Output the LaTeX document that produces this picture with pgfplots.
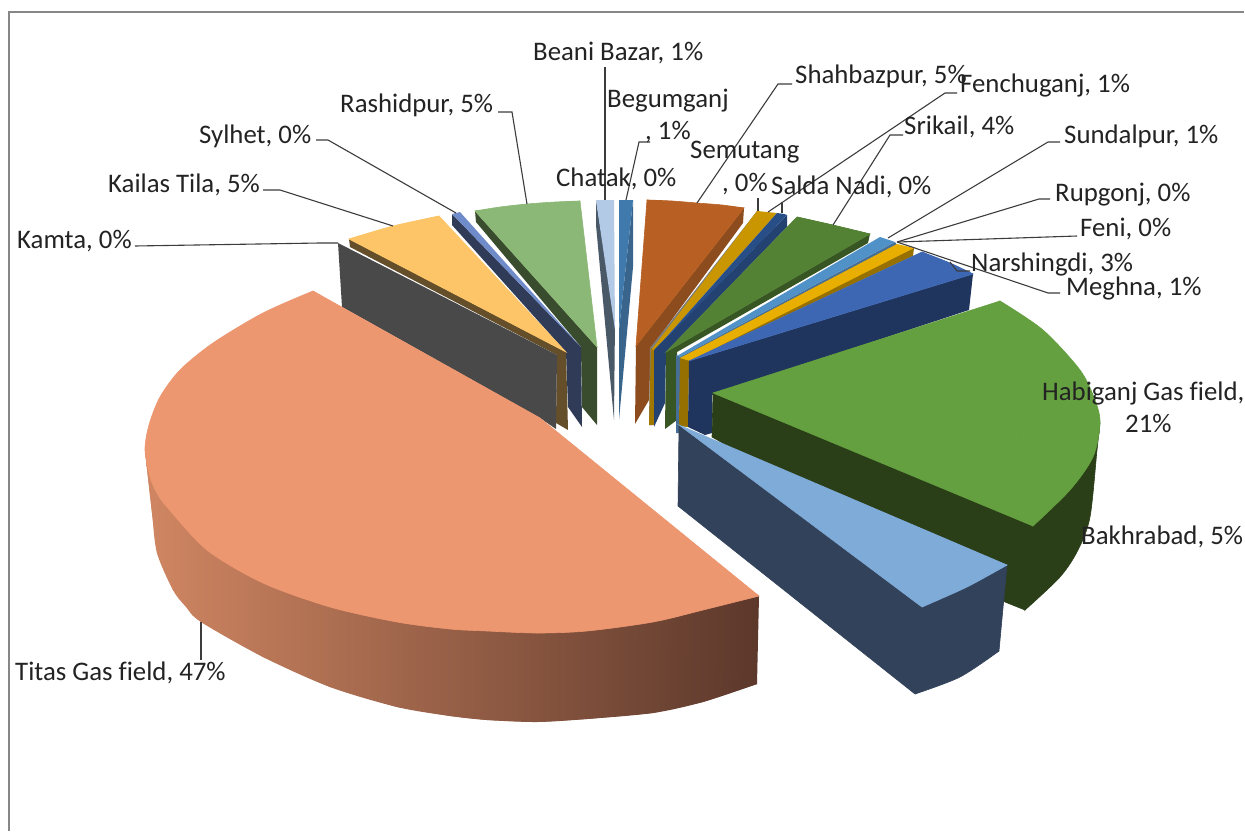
\documentclass[border=0pt]{standalone}
\usepackage{pgfplots}
\pgfplotsset{compat=1.18}
\usepackage{fontspec}
\setmainfont[Ligatures=NoCommon]{Carlito}
\definecolor{txt}{RGB}{35,35,35}
\definecolor{lead}{RGB}{60,60,60}
\newcommand\poly[2]{\addplot[fill={rgb,255:#1},draw=none,forget plot] coordinates {#2} -- cycle;}
\newcommand\polys[2]{\addplot[fill={rgb,255:#1},draw={rgb,255:#1},line width=0.6pt,forget plot] coordinates {#2} -- cycle;}
\newcommand\arcf[2]{\addplot[smooth,fill={rgb,255:#1},draw={rgb,255:#1},line width=0.6pt,forget plot] coordinates {#2} -- cycle;}
\newcommand\lin[1]{\addplot[lead,line width=1.1pt,forget plot] coordinates {#1};}
\newcommand\lab[3]{\node[anchor=base west,inner sep=0pt,text=txt] at (axis cs:#1,#2) {#3};}
\begin{document}
\begin{tikzpicture}
\begin{axis}[scale only axis,width=1245pt,height=832pt,xmin=0,xmax=1245,ymin=0,ymax=832,y dir=reverse,hide axis,clip=false,
  nodes={font=\fontsize{26.8}{30}\selectfont}]
\addplot[fill=white,draw=none,forget plot] coordinates {(0,0)(1245,0)(1245,832)(0,832)} -- cycle;
% frame
\addplot[color={rgb,255:red,135;green,135;blue,135},line width=1.5pt,forget plot] coordinates {(9,831)(9,12)(1244,12)};
% Beani Bazar
\poly{red,74;green,89;blue,104}{(596,200)(596,225)(614,420)(615,320)}
\poly{red,178;green,202;blue,230}{(596,200)(614,200)(615,330)}
% Begumganj
\poly{red,57;green,101;blue,141}{(633,200)(633,267)(619,420)(619,330)}
\poly{red,64;green,122;blue,172}{(619,200)(633,200)(619,330)}
% Rashidpur
\poly{red,58;green,76;blue,46}{(475,211)(597,347)(597,425)(582,407)(581,347)(476,222)}
\polys{red,139;green,184;blue,118}{(475,211)(580,201)(597,347)}
\arcf{red,139;green,184;blue,118}{(475,211)(500,207)(527,204)(555,202)(580,201)}
% Sylhet
\poly{red,47;green,59;blue,87}{(452,214)(452,225)(566,352)(568,407)(582,427)(581,347)}
\poly{red,111;green,139;blue,201}{(452,214)(460,212)(581,347)}
% Kailas Tila
\poly{red,101;green,79;blue,42}{(349,239)(566,352)(568,430)(556,423)(557,355)(350,247)}
\polys{red,253;green,197;blue,103}{(349,239)(439,216)(566,352)}
\arcf{red,253;green,197;blue,103}{(349,239)(393,226)(439,216)}
% Kamta
\poly{red,73;green,73;blue,73}{(338,243)(557,355)(556,429)(540,418)(342,307)}
% Shahbazpur
\poly{red,141;green,76;blue,29}{(636,346)(744,208)(743,223)(651,348)(649,400)(635,424)}
\polys{red,184;green,96;blue,35}{(647,200)(744,208)(636,346)}
\arcf{red,184;green,96;blue,35}{(647,200)(672,201)(697,203)(722,205)(744,208)}
% Semutang
\poly{red,125;green,125;blue,125}{(757,211)(759,212)(653,350)(652,425)(649,425)(650,348)}
% Fenchuganj
\poly{red,160;green,120;blue,0}{(651,348)(655,350)(654,425)(649,425)}
\poly{red,201;green,150;blue,0}{(757,211)(777,213)(654,351)(652,349)}
% Salda Nadi
\poly{red,36;green,66;blue,113}{(787,215)(787,227)(666,352)(665,403)(654,427)(654,350)}
\poly{red,39;green,78;blue,135}{(777,213)(784,214)(787,215)(654,351)}
% Srikail
\poly{red,55;green,86;blue,35}{(870,234)(868,243)(677,352)(677,420)(665,429)(666,352)}
\polys{red,84;green,130;blue,53}{(797,217)(870,234)(666,352)}
\arcf{red,84;green,130;blue,53}{(797,217)(833,225)(870,234)}
% Sundalpur
\poly{red,70;green,110;blue,150}{(676,355)(681,357)(679,433)(676,433)}
\poly{red,70;green,110;blue,150}{(895,242)(897,245)(681,360)(678,358)}
\poly{red,80;green,145;blue,200}{(880,237)(895,242)(680,357)(677,356)}
% Meghna
\poly{red,150;green,112;blue,0}{(914,248)(913,256)(689,361)(688,427)(679,426)(680,358)}
\poly{red,232;green,175;blue,0}{(897,244)(914,248)(690,361)(680,358)}
% Narshingdi
\poly{red,32;green,53;blue,93}{(973,274)(969,310)(712,395)(712,433)(705,435)(688,427)(689,361)}
\polys{red,61;green,103;blue,178}{(922,252)(973,274)(689,361)}
\arcf{red,61;green,103;blue,178}{(922,252)(950,263)(973,274)}
% Habiganj
\polys{red,42;green,62;blue,24}{(713,393)(1100,423)(1099,433)(1025,610)(1005,602)(712,437)}
\arcf{red,42;green,62;blue,24}{(1099,433)(1097,450)(1090,517)(1078,550)(1060,577)(1025,610)}
\polys{red,100;green,160;blue,64}{(713,393)(1000,301)(1033,526)}
\arcf{red,100;green,160;blue,64}{(1000,301)(1043,330)(1080,370)(1095,400)(1100,423)(1093,457)(1070,490)(1033,526)}
% Bakhrabad
\polys{red,50;green,66;blue,90}{(679,425)(922,607)(1007,565)(999,651)(915,694)(678,506)}
\arcf{red,50;green,66;blue,90}{(999,651)(960,677)(915,694)}
\polys{red,127;green,171;blue,217}{(679,425)(1007,565)(922,607)}
\arcf{red,127;green,171;blue,217}{(1007,565)(967,587)(922,607)}
% Titas
\addplot[draw=none,left color={rgb,255:red,208;green,134;blue,98},middle color={rgb,255:red,150;green,94;blue,70},right color={rgb,255:red,92;green,56;blue,43},forget plot] coordinates {(145,450)(146,460)(152,513)(157,553)(173,590)(201,622)(263,657)(330,687)(397,707)(450,716)(487,720)(537,722)(587,719)(653,713)(703,702)(757,684)(759,596)} -- cycle;
\addplot[smooth,draw=none,left color={rgb,255:red,208;green,134;blue,98},middle color={rgb,255:red,150;green,94;blue,70},right color={rgb,255:red,92;green,56;blue,43},forget plot] coordinates {(146,460)(152,513)(157,553)(173,590)(186,607)(201,622)(263,657)(330,687)(397,707)(450,716)(487,720)(537,722)(587,719)(653,713)(703,702)(757,684)} -- cycle;
\polys{red,237;green,151;blue,112}{(313,291)(759,596)(540,418)}
\arcf{red,237;green,151;blue,112}{(313,291)(263,313)(213,343)(180,370)(160,397)(149,425)(145,450)(150,477)(157,493)(167,507)(207,550)(263,583)(330,607)(397,622)(450,629)(487,631)(537,633)(587,631)(653,622)(703,610)(759,596)}
% leaders
\lin{(201,622)(201,660)}
\lin{(135,246)(320,243)(338,243)}
\lin{(263,190)(280,190)(393,226)}
\lin{(316,140)(328,140)(456,213)}
\lin{(498,112)(512,112)(527,204)}
\lin{(605,67)(605,200)}
\lin{(626,200)(639,142)(650,142)}
\lin{(697,203)(778,84)(792,84)}
\lin{(758,198)(758,211)}
\lin{(768,212)(945,93)(957,93)}
\lin{(782,202)(782,213)}
\lin{(833,225)(890,135)(903,135)}
\lin{(888,238)(1048,142)(1060,142)}
\lin{(897,242)(1039,199)(1050,199)}
\lin{(898,242)(1077,236)}
\lin{(897,242)(1048,293)(1060,293)}
\lin{(950,262)(957,271)(970,271)}
% labels
\lab{533}{61}{Beani Bazar, 1\%}
\lab{607}{108}{Begumganj}
\lab{645}{140}{, 1\%}
\lab{795}{84}{Shahbazpur, 5\%}
\lab{960}{93}{Fenchuganj, 1\%}
\lab{904}{135}{Srikail, 4\%}
\lab{1064}{144}{Sundalpur, 1\%}
\lab{690}{159}{Semutang}
\lab{722}{191}{, 0\%}
\lab{556}{186}{Chatak, 0\%}
\lab{771}{194}{Salda Nadi, 0\%}
\lab{1055}{201}{Rupgonj, 0\%}
\lab{1080}{236}{Feni, 0\%}
\lab{971}{271}{Narshingdi, 3\%}
\lab{1066}{295}{Meghna, 1\%}
\lab{1042}{400}{Habiganj Gas field,}
\lab{1125}{432}{21\%}
\lab{1081}{544}{Bakhrabad, 5\%}
\lab{15}{680}{Titas Gas field, 47\%}
\lab{17}{248}{Kamta, 0\%}
\lab{108}{193}{Kailas Tila, 5\%}
\lab{199}{143}{Sylhet, 0\%}
\lab{340}{113}{Rashidpur, 5\%}
\end{axis}
\end{tikzpicture}
\end{document}
